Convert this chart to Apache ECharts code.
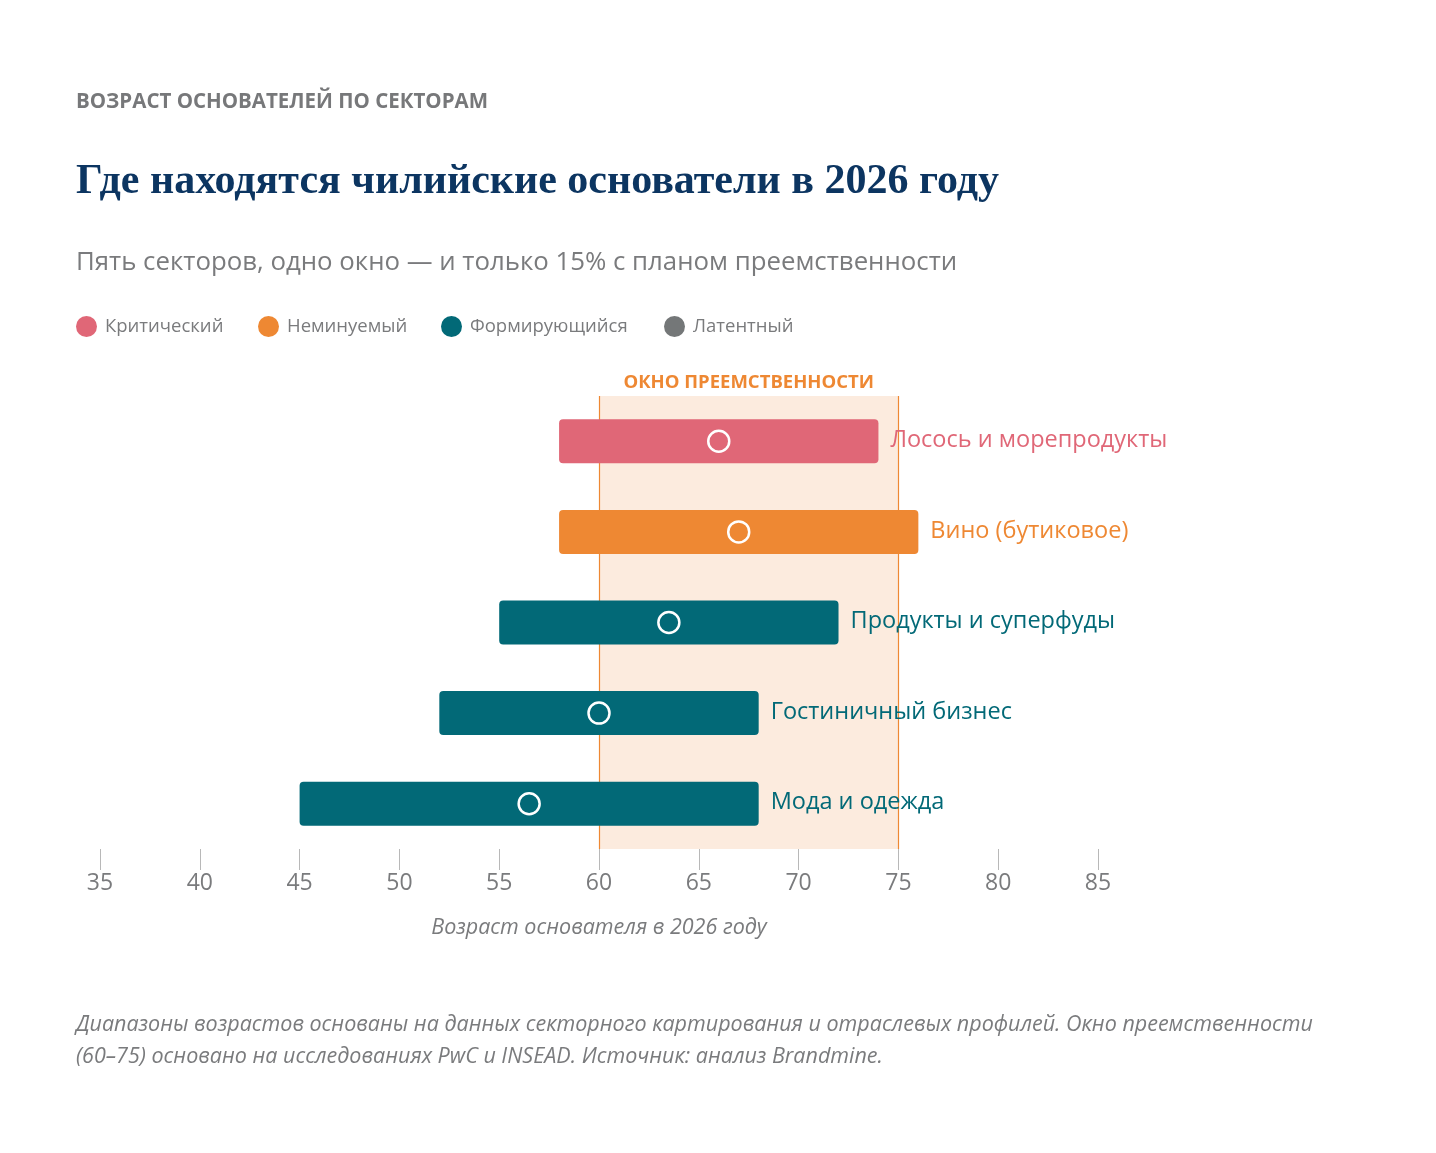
<!DOCTYPE html>
<html>
<head>
<meta charset="utf-8">
<script src="https://cdn.jsdelivr.net/npm/echarts@6/dist/echarts.min.js"></script>
<style>
html,body{margin:0;padding:0;background:#fff;}
#chart{width:1436px;height:1153px;}
</style>
</head>
<body>
<div id="chart"></div>
<script>
const categories = ['Лосось и морепродукты', 'Вино (бутиковое)', 'Продукты и суперфуды', 'Гостиничный бизнес', 'Мода и одежда'];
const rangeStart = [58, 58, 55, 52, 45];
const rangeEnd = [74, 76, 72, 68, 68];
const midAge = [66, 67, 63.5, 60, 56.5];
const sectorStatus = ['Критический', 'Неминуемый', 'Формирующийся', 'Формирующийся', 'Формирующийся'];
const statusNames = ['Критический', 'Неминуемый', 'Формирующийся', 'Латентный'];
const statusColors = ['#e06777', '#ee8833', '#026977', '#747778'];
const windowRange = [60, 75];
const xTicks = [35, 40, 45, 50, 55, 60, 65, 70, 75, 80, 85];

const FONT = '"Open Sans", "Noto Sans", sans-serif';
const colorOf = s => statusColors[statusNames.indexOf(s)];

const barData = categories.map((c, i) => ({
  value: [i, rangeStart[i], rangeEnd[i]],
  name: c,
  color: colorOf(sectorStatus[i])
}));

const chart = echarts.init(document.getElementById('chart'), null, {renderer: 'canvas'});

const legendLeft = [76, 258, 441, 664];

const option = {
  backgroundColor: '#ffffff',
  animation: false,
  title: [
    {text: 'ВОЗРАСТ ОСНОВАТЕЛЕЙ ПО СЕКТОРАМ', left: 76, top: 91, padding: 0,
     textStyle: {fontFamily: FONT, fontSize: 20.5, fontWeight: 'bold', color: '#77787a', lineHeight: 22}},
    {text: 'Где находятся чилийские основатели в 2026 году', left: 76, top: 161, padding: 0,
     textStyle: {fontFamily: '"Liberation Serif", serif', fontSize: 42, fontWeight: 'bold', color: '#0c3561', lineHeight: 42}},
    {text: 'Пять секторов, одно окно — и только 15% с планом преемственности', left: 76, top: 250, padding: 0,
     textStyle: {fontFamily: FONT, fontSize: 25.8, fontWeight: 'normal', color: '#7a7b7d', lineHeight: 26}},
    {text: 'Диапазоны возрастов основаны на данных секторного картирования и отраслевых профилей. Окно преемственности\n(60–75) основано на исследованиях PwC и INSEAD. Источник: анализ Brandmine.',
     left: 76, top: 1009, padding: 0,
     textStyle: {fontFamily: FONT, fontSize: 21.5, fontStyle: 'italic', fontWeight: 'normal', color: '#7a7b7d', lineHeight: 32}}
  ],
  legend: statusNames.map((n, i) => ({
    data: [n], left: legendLeft[i], top: 316, padding: 0, icon: 'circle', itemWidth: 21, itemHeight: 21, itemGap: 8,
    textStyle: {fontFamily: FONT, fontSize: 18.5, color: '#7a7b7d', padding: [0, 0, 0, 3]}, selectedMode: false
  })),
  grid: {left: 100, right: 338, top: 396, bottom: 304, containLabel: false},
  xAxis: {
    type: 'value', min: 35, max: 85, interval: 5,
    axisLine: {show: false},
    axisTick: {show: true, length: 21, lineStyle: {color: '#b8b8b8', width: 1}},
    splitLine: {show: false},
    axisLabel: {fontFamily: FONT, fontSize: 23, color: '#7a7b7d', margin: 0, padding: [23, 0, 0, 0],
      formatter: v => xTicks.includes(v) ? String(v) : ''},
    name: 'Возраст основателя в 2026 году', nameLocation: 'middle', nameGap: 68,
    nameTextStyle: {fontFamily: FONT, fontSize: 21.5, fontStyle: 'italic', color: '#7a7b7d'}
  },
  yAxis: {
    type: 'category', data: categories, inverse: true,
    axisLine: {show: false}, axisTick: {show: false}, axisLabel: {show: false}, splitLine: {show: false}
  },
  series: [
    ...statusNames.map((n, i) => ({
      name: n, type: 'scatter', data: [], itemStyle: {color: statusColors[i], opacity: 1}
    })),
    {
      name: 'window', type: 'line', data: [], silent: true,
      markArea: {
        silent: true,
        itemStyle: {color: '#fcebde'},
        label: {show: true, position: 'top', distance: 4, color: '#ee8833', fontFamily: FONT, fontSize: 18.5, fontWeight: 'bold'},
        data: [[{xAxis: windowRange[0], name: 'ОКНО ПРЕЕМСТВЕННОСТИ'}, {xAxis: windowRange[1]}]]
      },
      markLine: {
        silent: true, symbol: 'none', label: {show: false},
        lineStyle: {color: '#ee8833', width: 1.2, type: 'solid'},
        data: [{xAxis: windowRange[0]}, {xAxis: windowRange[1]}]
      }
    },
    {
      name: 'ranges', type: 'custom', z: 5,
      data: barData,
      encode: {x: [1, 2], y: 0},
      renderItem: function (params, api) {
        const cat = api.value(0);
        const p0 = api.coord([api.value(1), cat]);
        const p1 = api.coord([api.value(2), cat]);
        const h = 44;
        const color = barData[params.dataIndex].color;
        return {
          type: 'group',
          children: [
            {type: 'rect', shape: {x: p0[0], y: p0[1] - h / 2, width: p1[0] - p0[0], height: h, r: 4},
             style: {fill: color}},
            {type: 'text', x: p1[0] + 12, y: p1[1] - 1,
             style: {text: categories[params.dataIndex], fill: color, font: '23.5px ' + FONT,
                     textAlign: 'left', textVerticalAlign: 'middle'}}
          ]
        };
      }
    },
    {
      name: 'mid', type: 'scatter', z: 6,
      data: midAge.map((m, i) => [m, i]),
      symbol: 'circle', symbolSize: 21,
      itemStyle: {color: 'rgba(0,0,0,0)', borderColor: '#ffffff', borderWidth: 2.5, opacity: 1}
    }
  ]
};
chart.setOption(option);
</script>
</body>
</html>
